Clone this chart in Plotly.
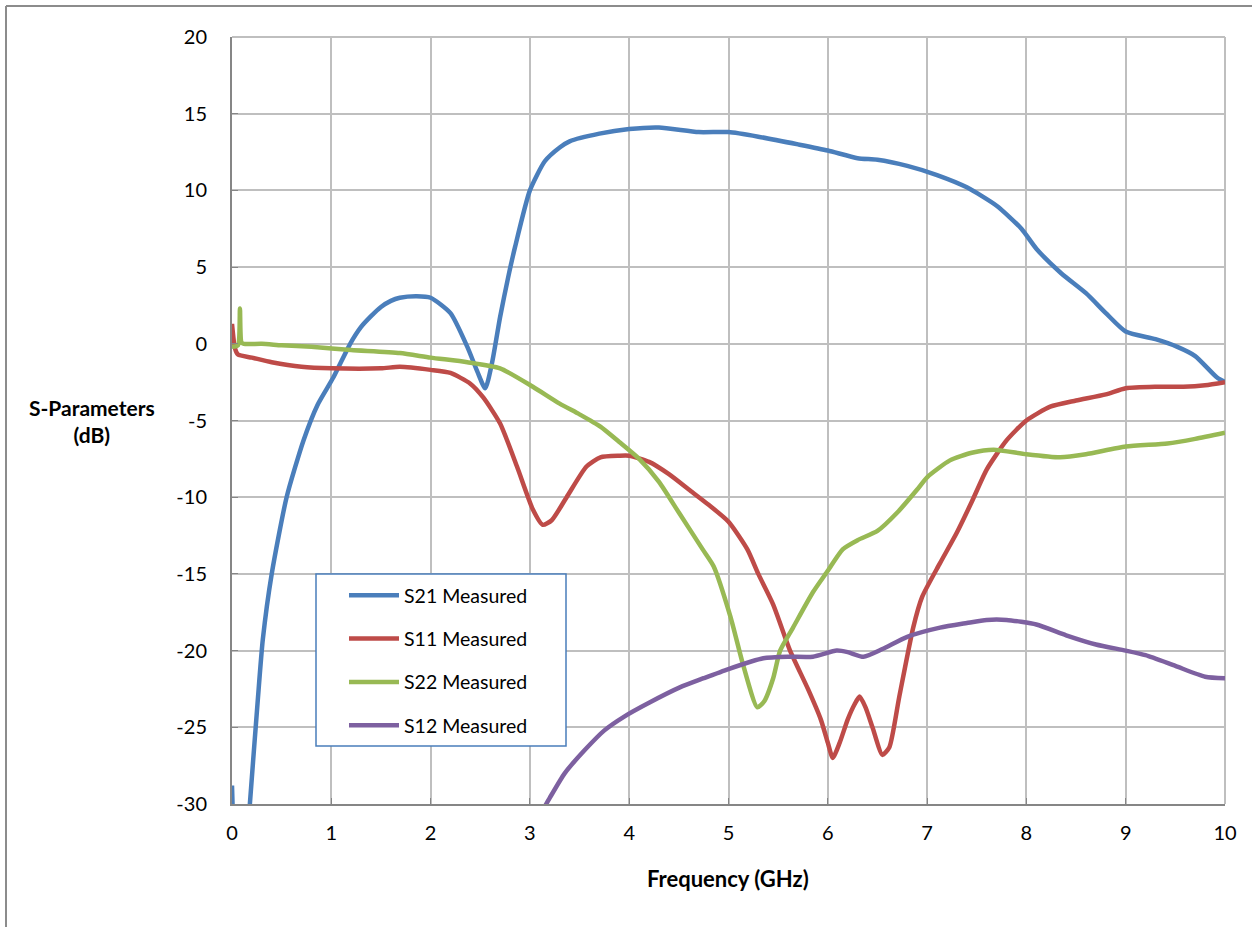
import plotly.graph_objects as go

# ---- data ----
s21_f = [0.0, 0.01, 0.05, 0.12, 0.165, 0.18, 0.26, 0.31, 0.40, 0.55, 0.72, 0.86, 1.02, 1.19, 1.3, 1.4, 1.5, 1.6, 1.69,
         1.86, 2.0, 2.2, 2.37, 2.47, 2.55, 2.62, 2.70, 2.78, 2.85, 3.0, 3.15, 3.3, 3.4, 3.7, 4.0, 4.3, 4.7, 5.0,
         5.3, 5.7, 6.0, 6.3, 6.5, 6.8, 7.1, 7.4, 7.7, 7.95, 8.1, 8.35, 8.6, 8.8, 9.0, 9.3, 9.52, 9.7, 9.92, 10.0]
s21_v = [-28.8, -31.0, -40.0, -40.0, -31.5, -30.0, -23.2, -19.3, -15.0, -10.0, -6.3, -4.0, -2.2, 0.0, 1.1, 1.8, 2.4, 2.8, 3.0,
         3.1, 3.0, 2.0, -0.2, -1.8, -2.9, -1.2, 1.75, 4.3, 6.3, 10.0, 11.9, 12.8, 13.2, 13.7, 14.0, 14.1, 13.8, 13.8,
         13.5, 13.0, 12.6, 12.1, 12.0, 11.6, 11.0, 10.2, 9.0, 7.5, 6.2, 4.6, 3.3, 2.0, 0.8, 0.3, -0.2, -0.8, -2.2, -2.5]

s11_f = [0.0, 0.03, 0.06, 0.2, 0.4, 0.7, 1.0, 1.5, 1.69, 2.0, 2.2, 2.4, 2.53, 2.70, 2.87, 3.03, 3.13, 3.22, 3.37, 3.57,
         3.71, 3.9, 4.0, 4.2, 4.4, 4.6, 4.8, 5.0, 5.19, 5.30, 5.45, 5.62, 5.8, 5.93, 6.0, 6.05, 6.12, 6.2, 6.27, 6.32,
         6.38, 6.45, 6.55, 6.62, 6.72, 6.86, 6.95, 7.13, 7.3, 7.45, 7.6, 7.8, 8.0, 8.24, 8.5, 8.8, 9.0, 9.3, 9.58,
         9.8, 10.0]
s11_v = [1.3, -0.3, -0.7, -0.9, -1.2, -1.5, -1.6, -1.6, -1.5, -1.7, -1.9, -2.6, -3.5, -5.2, -8.0, -10.8, -11.8, -11.5, -10.0,
         -8.0, -7.4, -7.3, -7.3, -7.7, -8.5, -9.5, -10.5, -11.6, -13.4, -15.0, -17.0, -20.0, -22.5, -24.5, -26.0, -27.0,
         -26.0, -24.5, -23.5, -23.0, -23.7, -25.0, -26.8, -26.3, -23.0, -18.5, -16.5, -14.3, -12.3, -10.3, -8.2, -6.3,
         -5.0, -4.1, -3.7, -3.3, -2.9, -2.8, -2.8, -2.7, -2.5]

s22_f = [0.0, 0.06, 0.08, 0.095, 0.12, 0.3, 0.5, 0.8, 1.2, 1.69, 2.0, 2.37, 2.70, 3.03, 3.30, 3.50, 3.71, 3.9, 4.1,
         4.3, 4.5, 4.74, 4.85, 5.02, 5.15, 5.29, 5.36, 5.45, 5.52, 5.65, 5.85, 6.0, 6.15, 6.3, 6.5, 6.7, 6.9, 7.0,
         7.23, 7.45, 7.67, 8.0, 8.34, 8.6, 9.0, 9.42, 9.7, 10.0]
s22_v = [-0.2, -0.1, 2.3, 0.1, 0.0, 0.0, -0.1, -0.2, -0.4, -0.6, -0.9, -1.2, -1.6, -2.8, -3.9, -4.6, -5.4, -6.4, -7.5,
         -9.0, -11.0, -13.4, -14.5, -17.8, -21.0, -23.7, -23.3, -21.8, -20.0, -18.5, -16.2, -14.8, -13.4, -12.8, -12.2,
         -11.0, -9.5, -8.7, -7.6, -7.1, -6.9, -7.2, -7.4, -7.2, -6.7, -6.5, -6.2, -5.8]

s12_f = [3.12, 3.2, 3.35, 3.55, 3.75, 3.95, 4.2, 4.51, 4.75, 5.0, 5.35, 5.6, 5.85, 6.09, 6.2, 6.36, 6.55, 6.8, 7.13,
         7.4, 7.6, 7.8, 8.1, 8.4, 8.7, 9.0, 9.2, 9.5, 9.8, 10.0]
s12_v = [-30.5, -29.6, -28.0, -26.5, -25.2, -24.3, -23.4, -22.4, -21.8, -21.2, -20.5, -20.4, -20.4, -20.0, -20.1,
         -20.4, -19.9, -19.1, -18.5, -18.2, -18.0, -18.0, -18.3, -19.0, -19.6, -20.0, -20.3, -21.0, -21.7, -21.8]

names = ["S21 Measured", "S11 Measured", "S22 Measured", "S12 Measured"]
colors = ["#4a7ebb", "#be4b48", "#98b954", "#7d60a0"]
series = [(s21_f, s21_v), (s11_f, s11_v), (s22_f, s22_v), (s12_f, s12_v)]

x_ticks = list(range(0, 11))
y_ticks = list(range(-30, 21, 5))
x_labels = [str(v) for v in x_ticks]
y_labels = [str(v) for v in y_ticks]

FONT = "Lato, Calibri, Carlito, sans-serif"

fig = go.Figure()
for i, ((f, v), n, c) in enumerate(zip(series, names, colors)):
    fig.add_trace(go.Scatter(x=f, y=v, mode="lines", name=n, legendgroup=str(i),
                             line=dict(color=c, width=4.5, shape="spline", smoothing=0.6)))

W, H = 1252, 927
L, R, T, B = 232, 27, 37, 123
pw, ph = W - L - R, H - T - B

def px(xp):
    return (xp - L) / pw

def py(yp):
    return (H - B - yp) / ph

fig.update_layout(
    width=W, height=H,
    margin=dict(l=L, r=R, t=T, b=B),
    paper_bgcolor="white", plot_bgcolor="white",
    font=dict(family=FONT, size=20, color="black"),
    showlegend=True,
    legend=dict(x=px(344), y=py(576), xanchor="left", yanchor="top",
                bgcolor="rgba(255,255,255,0)", borderwidth=0,
                font=dict(size=19.5, family=FONT), tracegroupgap=15,
                itemwidth=50),
    xaxis=dict(range=[0, 10], tickvals=x_ticks, ticktext=x_labels, showgrid=True, gridcolor="#bfbfbf", gridwidth=2,
               showline=True, linecolor="#868686", linewidth=2, ticks="inside", ticklen=6,
               tickcolor="#868686", zeroline=False, ticklabelstandoff=10,
               tickfont=dict(size=20)),
    yaxis=dict(range=[-30, 20], tickvals=y_ticks, ticktext=y_labels, showgrid=True, gridcolor="#bfbfbf", gridwidth=2,
               showline=True, linecolor="#868686", linewidth=2, ticks="inside", ticklen=6,
               tickcolor="#868686", zeroline=False, ticklabelstandoff=19,
               tickfont=dict(size=20)),
    annotations=[
        dict(text="<b>S-Parameters<br>(dB)</b>", x=px(92), y=py(421), xref="paper", yref="paper",
             xanchor="center", yanchor="middle",
             showarrow=False, font=dict(size=21, family=FONT), align="center"),
        dict(text="<b>Frequency (GHz)</b>", x=px(728), y=py(878), xref="paper", yref="paper",
             xanchor="center", yanchor="middle",
             showarrow=False, font=dict(size=22, family=FONT)),
    ],
    shapes=[
        dict(type="line", xref="paper", yref="paper", x0=px(1225), x1=px(1225), y0=0, y1=1,
             line=dict(color="#bfbfbf", width=2), layer="below"),
        dict(type="line", xref="paper", yref="paper", x0=0, x1=1, y0=1, y1=1,
             line=dict(color="#bfbfbf", width=2), layer="below"),
        # outer chart frame
        dict(type="line", xref="paper", yref="paper", x0=px(6), x1=px(1252), y0=py(6), y1=py(6),
             line=dict(color="#8c8c8c", width=2), layer="above"),
        dict(type="line", xref="paper", yref="paper", x0=px(6), x1=px(6), y0=py(6), y1=py(927),
             line=dict(color="#8c8c8c", width=2), layer="above"),
        # legend frame
        dict(type="rect", xref="paper", yref="paper", x0=px(316), x1=px(566), y0=py(746), y1=py(574),
             line=dict(color="#4a7ebb", width=1.5), fillcolor="white", layer="above"),
    ],
)

fig.write_html("out.html", config={"displayModeBar": False},
               post_script="document.body.style.margin='0';document.body.style.overflow='hidden';")
